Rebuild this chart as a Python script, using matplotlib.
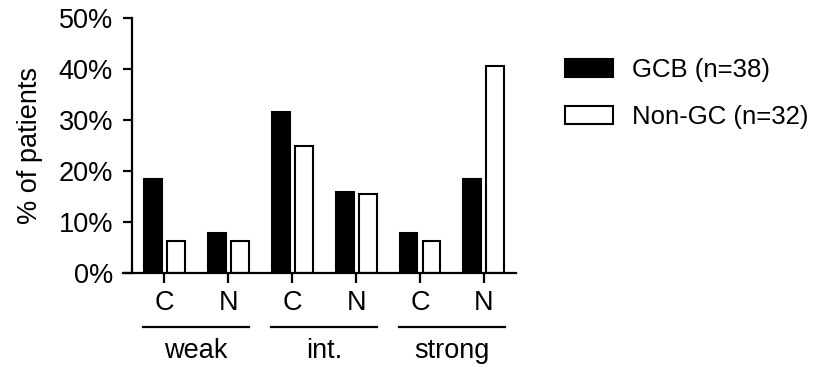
import matplotlib
matplotlib.use("Agg")
import matplotlib.pyplot as plt
import matplotlib.transforms as mtransforms
import numpy as np

plt.rcParams['font.family'] = ['Liberation Sans', 'DejaVu Sans']

categories = ["C", "N", "C", "N", "C", "N"]
groups = ["weak", "int.", "strong"]
gcb = [18.4, 7.9, 31.6, 15.8, 7.9, 18.4]
nongc = [6.25, 6.25, 25.0, 15.6, 6.25, 40.6]
series_labels = ["GCB (n=38)", "Non-GC (n=32)"]
yticks = [0, 10, 20, 30, 40, 50]

FS = 19.5
LFS = 18.5
fig = plt.figure(figsize=(8.15, 3.69), dpi=100)
ax = fig.add_axes([0.151, 0.260, 0.482, 0.691])

x = np.arange(len(categories))
w = 0.28
off = 0.18
ax.bar(x - off, gcb, w, color="black", edgecolor="black", linewidth=1.5,
       label=series_labels[0])
ax.bar(x + off, nongc, w, color="white", edgecolor="black", linewidth=1.5,
       label=series_labels[1])

ax.set_xlim(-0.645, 5.5)
ax.set_ylim(0, 50)
ax.set_yticks(yticks)
ax.set_yticklabels([f"{v}%" for v in yticks])
ax.set_xticks(x)
ax.set_xticklabels(categories)

for s in ["top", "right"]:
    ax.spines[s].set_visible(False)
ax.spines["left"].set_position(("data", -0.51))
ax.spines["left"].set_bounds(0, 50)
ax.spines["left"].set_linewidth(1.6)
ax.spines["bottom"].set_linewidth(1.6)
ax.spines["left"].set_zorder(5)

ax.tick_params(axis="y", length=6.5, width=1.6, labelsize=FS, pad=7)
ax.tick_params(axis="x", length=7, width=1.6, labelsize=FS, pad=5)
ax.set_ylabel("% of patients", fontsize=FS)
ax.yaxis.set_label_coords(-0.205, 0.5)

trans = mtransforms.blended_transform_factory(ax.transData, fig.transFigure)
for i, g in enumerate(groups):
    c = 2 * i + 0.5
    ax.plot([c - 0.83, c + 0.83], [0.1146, 0.1146], color="black", lw=1.6,
            transform=trans, clip_on=False)
    ax.text(c, 0.050, g, transform=trans, ha="center", va="center", fontsize=FS)

leg = fig.legend(loc="upper left", bbox_to_anchor=(0.693, 0.843), frameon=False,
                 fontsize=LFS, handlelength=1.87, handleheight=0.74,
                 handletextpad=0.73, labelspacing=0.9, borderaxespad=0,
                 borderpad=0)

fig.savefig("out.png", dpi=100)
